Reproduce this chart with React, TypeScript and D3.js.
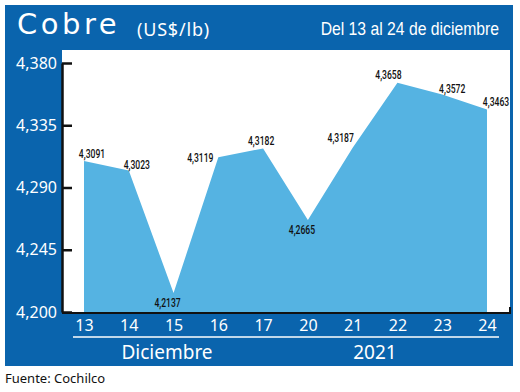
import { useEffect, useRef } from "react";
import * as d3 from "d3";

const days: string[] = ["13", "14", "15", "16", "17", "20", "21", "22", "23", "24"];
const prices: number[] = [4.3091, 4.3023, 4.2137, 4.3119, 4.3182, 4.2665, 4.3187, 4.3658, 4.3572, 4.3463];
const priceLabels: string[] = ["4,3091", "4,3023", "4,2137", "4,3119", "4,3182", "4,2665", "4,3187", "4,3658", "4,3572", "4,3463"];
const yTicks: number[] = [4.2, 4.245, 4.29, 4.335, 4.38];
const yTickLabels: string[] = ["4,200", "4,245", "4,290", "4,335", "4,380"];
const groupLabels: string[] = ["Diciembre", "2021"];

// label placement relative to each point (dx, dy to baseline)
const labelOffsets: [number, number][] = [
  [8, -3], [8, -1], [-6, 14], [-18, 5], [-2, -3],
  [-6, 14], [-12, -6], [-9, -4], [10, -2], [9, -4],
];

const BLUE = "#0a64ad";
const FILL = "#55b3e2";

export default function App() {
  const ref = useRef<SVGSVGElement | null>(null);

  useEffect(() => {
    const width = 520;
    const height = 392;
    const plot = { left: 62, right: 510, top: 50, bottom: 313 };

    const svg = d3.select(ref.current).attr("width", width).attr("height", height);
    svg.selectAll("*").remove();

    const x = d3.scalePoint<string>().domain(days).range([84, 487]);
    const y = d3.scaleLinear().domain([4.2, 4.38]).range([312, 63]);

    // blue frame
    svg.append("rect").attr("x", 5).attr("y", 5).attr("width", 508).attr("height", 361).attr("fill", BLUE);
    svg
      .append("rect")
      .attr("x", plot.left)
      .attr("y", plot.top)
      .attr("width", plot.right - plot.left)
      .attr("height", plot.bottom - plot.top)
      .attr("fill", "#ffffff");

    // header
    svg
      .append("text")
      .attr("x", 17)
      .attr("y", 34)
      .attr("fill", "#fff")
      .attr("font-family", "'DejaVu Sans', sans-serif")
      .attr("font-size", 29)
      .attr("letter-spacing", 3.5)
      .text("Cobre");
    svg
      .append("text")
      .attr("x", 137)
      .attr("y", 36)
      .attr("fill", "#fff")
      .attr("font-family", "'Noto Sans', sans-serif")
      .attr("font-size", 18)
      .attr("letter-spacing", 0.8)
      .text("(US$/lb)");
    svg
      .append("text")
      .attr("transform", "translate(499,35) scale(0.9,1)")
      .attr("text-anchor", "end")
      .attr("fill", "#fff")
      .attr("font-family", "'Liberation Sans', sans-serif")
      .attr("font-size", 17.5)
      .text("Del 13 al 24 de diciembre");

    // area
    const area = d3
      .area<number>()
      .x((_, i) => x(days[i])!)
      .y0(plot.bottom)
      .y1((d) => y(d));
    svg.append("path").datum(prices).attr("d", area).attr("fill", FILL);

    // y axis
    const yAxis = svg
      .append("g")
      .attr("transform", `translate(${plot.left},0)`)
      .call(
        d3
          .axisRight(y)
          .tickValues(yTicks)
          .tickSize(10)
          .tickSizeOuter(0)
          .tickFormat((_, i) => yTickLabels[i])
      );
    yAxis.select(".domain").attr("stroke", "#111").attr("stroke-width", 2.5);
    yAxis.selectAll(".tick line").attr("stroke", "#111").attr("stroke-width", 2.5);
    yAxis
      .selectAll(".tick text")
      .attr("x", -5)
      .attr("text-anchor", "end")
      .attr("fill", "#fff")
      .attr("font-family", "'Noto Sans', sans-serif")
      .attr("font-size", 16);

    // x axis line
    svg
      .append("path")
      .attr("d", `M${plot.left},${plot.bottom}H${plot.right}V${plot.bottom - 6}`)
      .attr("fill", "none")
      .attr("stroke", "#111")
      .attr("stroke-width", 2);

    const xAxis = svg
      .append("g")
      .attr("transform", `translate(0,${plot.bottom})`)
      .call(d3.axisBottom(x).tickSize(0).tickPadding(7));
    xAxis.select(".domain").remove();
    xAxis
      .selectAll(".tick text")
      .attr("fill", "#fff")
      .attr("font-family", "'Noto Sans', sans-serif")
      .attr("font-size", 16);

    svg
      .append("line")
      .attr("x1", 73)
      .attr("x2", 499)
      .attr("y1", 337)
      .attr("y2", 337)
      .attr("stroke", "#fff")
      .attr("stroke-width", 1.5);

    const groupX = [167, 375];
    svg
      .selectAll("text.group")
      .data(groupLabels)
      .enter()
      .append("text")
      .attr("class", "group")
      .attr("x", (_, i) => groupX[i])
      .attr("y", 359)
      .attr("text-anchor", "middle")
      .attr("fill", "#fff")
      .attr("font-family", "'Noto Sans', sans-serif")
      .attr("font-size", 19)
      .text((d) => d);

    // value labels (condensed look via horizontal scale)
    svg
      .selectAll("text.val")
      .data(prices)
      .enter()
      .append("text")
      .attr("class", "val")
      .attr(
        "transform",
        (d, i) => `translate(${x(days[i])! + labelOffsets[i][0]},${y(d) + labelOffsets[i][1]}) scale(0.66,1)`
      )
      .attr("text-anchor", "middle")
      .attr("fill", "#111")
      .attr("font-family", "'Roboto', sans-serif")
      .attr("font-weight", 500)
      .attr("font-size", 13)
      .text((_, i) => priceLabels[i]);

    svg
      .append("text")
      .attr("x", 5)
      .attr("y", 383)
      .attr("fill", "#111")
      .attr("font-family", "'Noto Sans', sans-serif")
      .attr("font-size", 13)
      .text("Fuente: Cochilco");
  }, []);

  return <svg ref={ref} style={{ position: "absolute", left: 0, top: 0 }} />;
}
